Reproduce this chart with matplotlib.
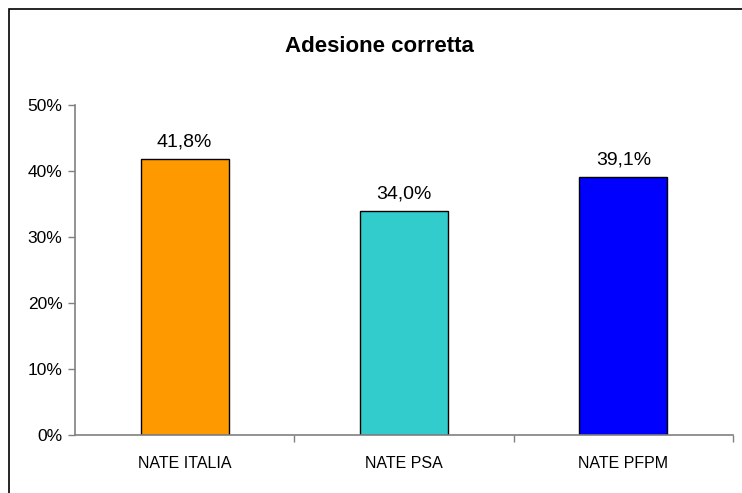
import matplotlib.pyplot as plt
from matplotlib.patches import Rectangle
from matplotlib.ticker import FuncFormatter

categories = ["NATE ITALIA", "NATE PSA", "NATE PFPM"]
values = [41.8, 34.0, 39.1]
colors = ["#FF9900", "#33CCCC", "#0000FF"]
yticks = [0, 10, 20, 30, 40, 50]

plt.rcParams["font.family"] = ["Liberation Sans", "DejaVu Sans"]

fig = plt.figure(figsize=(7.42, 4.93), dpi=100)
ax = fig.add_axes([75 / 742, 1 - 435 / 493, (733 - 75) / 742, (435 - 105) / 493])

# cornice del grafico (tagliata a destra e in basso)
fig.patches.append(Rectangle((9 / 742, -0.05), 1.2, 1 - 9 / 493 + 0.05,
                             transform=fig.transFigure, fill=False,
                             edgecolor="black", linewidth=1.2))

x = range(len(categories))
ax.bar(x, values, width=0.4, color=colors, edgecolor="black", linewidth=1.0)

for i, v in enumerate(values):
    ax.annotate(f"{v:.1f}%".replace(".", ","), (i, v), xytext=(0, 6),
                textcoords="offset points", ha="center", va="bottom",
                fontsize=14)

ax.set_xlim(-0.5, 2.5)
ax.set_ylim(0, 50)
ax.set_yticks(yticks)
ax.yaxis.set_major_formatter(FuncFormatter(lambda v, p: f"{v:.0f}%"))
ax.tick_params(axis="y", length=5, width=1, color="#808080", labelsize=12.5, pad=4)

# tacche tra le categorie, etichette al centro
ax.set_xticks([0.5, 1.5, 2.5])
ax.set_xticklabels([])
ax.set_xticks(list(x), minor=True)
ax.set_xticklabels(categories, minor=True, fontsize=11.5)
ax.tick_params(axis="x", which="major", length=5, width=1, color="#808080", direction="out")
ax.tick_params(axis="x", which="minor", length=0, pad=15)

for side in ["top", "right"]:
    ax.spines[side].set_visible(False)
for side in ["left", "bottom"]:
    ax.spines[side].set_color("#808080")
    ax.spines[side].set_linewidth(1.2)

fig.text(379 / 742, 1 - 46 / 493, "Adesione corretta", ha="center", va="center",
         fontsize=16, fontweight="bold")

fig.savefig("out.png", dpi=100)
